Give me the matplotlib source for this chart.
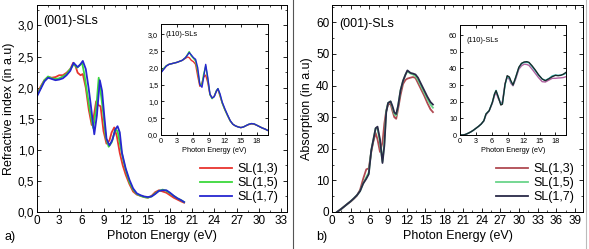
import matplotlib
matplotlib.use("Agg")
import matplotlib.pyplot as plt
from matplotlib.ticker import MultipleLocator, FuncFormatter
from matplotlib.lines import Line2D

plt.rcParams['font.family'] = ['Liberation Sans', 'DejaVu Sans']

labels = ['SL(1,3)', 'SL(1,5)', 'SL(1,7)']

# (a) refractive index, (001)-SLs
e_a13 = [0, 0.5, 1.0, 1.5, 2.0, 2.5, 3.0, 3.5, 4.0, 4.5, 4.9, 5.2, 5.5, 5.9, 6.2, 6.6, 7.0, 7.4, 7.7,
         8.0, 8.3, 8.6, 9.0, 9.4, 9.8, 10.1, 10.45, 10.8, 11.2, 11.6, 12.0, 12.5, 13.0, 13.5, 14.0,
         14.5, 15.0, 15.5, 16.0, 16.5, 17.0, 17.5, 18.0, 18.5, 19.0, 19.5, 19.9]
n_a13 = [1.90, 2.02, 2.12, 2.17, 2.16, 2.17, 2.20, 2.20, 2.24, 2.30, 2.40, 2.35, 2.24, 2.20, 2.22, 2.00,
         1.65, 1.40, 1.55, 1.78, 1.72, 1.70, 1.30, 1.10, 1.15, 1.28, 1.36, 1.22, 0.95, 0.75, 0.60,
         0.45, 0.33, 0.28, 0.26, 0.24, 0.23, 0.26, 0.32, 0.35, 0.33, 0.31, 0.27, 0.23, 0.20, 0.17, 0.15]
e_a15 = [0, 0.5, 1.0, 1.5, 2.0, 2.5, 3.0, 3.5, 4.0, 4.5, 5.0, 5.4, 5.8, 6.1, 6.4, 6.8, 7.2, 7.6, 8.0,
         8.35, 8.7, 9.0, 9.3, 9.7, 10.1, 10.6, 10.9, 11.3, 11.7, 12.0, 12.5, 13.0, 13.5, 14.0, 14.5,
         15.0, 15.5, 16.0, 16.5, 17.0, 17.5, 18.0, 18.5, 19.0, 19.5, 19.9]
n_a15 = [1.88, 2.00, 2.12, 2.18, 2.15, 2.14, 2.15, 2.18, 2.22, 2.30, 2.38, 2.32, 2.36, 2.40, 2.22, 1.90,
         1.60, 1.35, 1.65, 2.16, 1.85, 1.55, 1.20, 1.05, 1.12, 1.33, 1.30, 1.05, 0.82, 0.68, 0.48,
         0.36, 0.29, 0.26, 0.24, 0.23, 0.25, 0.30, 0.34, 0.36, 0.34, 0.30, 0.26, 0.22, 0.19, 0.16]
e_a17 = [0, 0.5, 1.0, 1.5, 2.0, 2.5, 3.0, 3.5, 4.0, 4.5, 4.95, 5.5, 5.9, 6.2, 6.6, 7.0, 7.3, 7.75,
         8.1, 8.5, 8.8, 9.1, 9.4, 9.8, 10.2, 10.6, 10.9, 11.2, 11.5, 12.0, 12.5, 13.0, 13.5, 14.0,
         14.5, 15.0, 15.5, 16.0, 16.5, 17.0, 17.5, 18.0, 18.5, 19.0, 19.5, 19.9]
n_a17 = [1.86, 1.98, 2.10, 2.16, 2.14, 2.12, 2.13, 2.15, 2.20, 2.27, 2.40, 2.33, 2.38, 2.43, 2.30, 1.98,
         1.70, 1.25, 1.55, 2.12, 1.95, 1.55, 1.18, 1.07, 1.16, 1.33, 1.38, 1.28, 0.95, 0.70, 0.52,
         0.38, 0.30, 0.27, 0.25, 0.24, 0.25, 0.29, 0.34, 0.35, 0.35, 0.31, 0.26, 0.22, 0.19, 0.16]

# (a) inset, (110)-SLs
e_ai = [0, 0.5, 1.0, 1.5, 2.0, 3.0, 4.0, 4.6, 5.0, 5.3, 5.7, 6.1, 6.5, 6.9, 7.3, 7.7, 8.0, 8.4, 8.8,
        9.2, 9.6, 10.0, 10.4, 10.7, 11.1, 11.5, 12.0, 12.5, 13.0, 13.5, 14.0, 14.5, 15.0, 15.5, 16.0,
        16.5, 17.0, 17.5, 18.0, 18.5, 19.0, 19.5, 20.0]
n_ai13 = [1.88, 1.96, 2.05, 2.10, 2.12, 2.16, 2.22, 2.28, 2.32, 2.30, 2.22, 2.18, 2.10, 1.75, 1.45,
          1.55, 1.72, 1.78, 1.55, 1.20, 1.10, 1.15, 1.30, 1.36, 1.15, 0.95, 0.75, 0.58, 0.42, 0.32,
          0.27, 0.24, 0.22, 0.24, 0.28, 0.31, 0.33, 0.32, 0.29, 0.25, 0.21, 0.18, 0.14]
n_ai15 = [1.86, 1.98, 2.06, 2.10, 2.12, 2.16, 2.22, 2.30, 2.40, 2.48, 2.35, 2.28, 2.20, 1.90, 1.50,
          1.50, 1.80, 2.05, 1.65, 1.20, 1.08, 1.15, 1.32, 1.38, 1.18, 0.95, 0.75, 0.58, 0.42, 0.32,
          0.27, 0.24, 0.22, 0.24, 0.28, 0.32, 0.34, 0.33, 0.29, 0.25, 0.21, 0.18, 0.14]
n_ai17 = [1.85, 1.95, 2.05, 2.10, 2.12, 2.16, 2.22, 2.30, 2.38, 2.45, 2.38, 2.30, 2.25, 2.00, 1.50,
          1.42, 1.70, 2.10, 1.70, 1.22, 1.10, 1.14, 1.30, 1.38, 1.22, 0.98, 0.78, 0.60, 0.43, 0.32,
          0.27, 0.24, 0.22, 0.24, 0.28, 0.32, 0.34, 0.33, 0.29, 0.25, 0.21, 0.18, 0.14]

# (b) absorption, (001)-SLs
e_b = [0.8, 1.5, 2.0, 2.5, 3.0, 3.5, 4.0, 4.5, 5.0, 5.5, 5.9, 6.3, 6.6, 7.0, 7.3, 7.7, 8.1, 8.4,
       8.7, 9.0, 9.4, 9.7, 10.0, 10.3, 10.6, 11.0, 11.4, 11.8, 12.1, 12.6, 13.0, 13.4, 13.8, 14.3,
       14.8, 15.3, 15.8, 16.2]
a_b13 = [0, 1.0, 1.8, 2.6, 3.3, 4.2, 5.2, 7.0, 10.5, 13.5, 13.8, 19.0, 22.0, 25.0, 23.0, 19.0, 22.0,
         28.0, 32.0, 34.0, 34.2, 32.0, 30.0, 29.5, 32.5, 37.0, 40.5, 41.8, 42.2, 42.5, 42.7, 42.4,
         40.8, 38.8, 36.8, 34.5, 32.5, 31.6]
a_b15 = [0, 1.0, 1.8, 2.6, 3.4, 4.3, 5.3, 6.6, 9.0, 11.0, 12.5, 19.5, 22.5, 26.5, 26.5, 22.0, 16.0,
         22.0, 32.0, 34.5, 35.0, 33.0, 31.0, 30.5, 33.5, 38.5, 41.5, 43.5, 44.5, 43.8, 43.5, 43.0,
         41.8, 39.8, 37.8, 35.8, 34.0, 33.0]
a_b17 = [0, 1.0, 1.8, 2.6, 3.4, 4.3, 5.3, 6.6, 9.0, 10.5, 12.0, 19.5, 22.5, 26.5, 27.0, 23.0, 15.5,
         21.0, 31.5, 34.5, 35.0, 33.5, 31.5, 31.0, 33.5, 38.5, 41.5, 43.5, 44.8, 44.0, 43.8, 43.5,
         42.5, 40.5, 38.5, 36.5, 34.8, 34.0]

# (b) inset, (110)-SLs
e_bi = [0, 0.5, 1.0, 1.5, 2.0, 2.5, 3.0, 3.5, 4.0, 4.5, 4.9, 5.5, 6.1, 6.5, 6.8, 7.2, 7.7, 8.0,
        8.5, 8.9, 9.3, 9.6, 10.0, 10.5, 11.1, 11.6, 12.1, 12.6, 13.0, 13.6, 14.2, 14.8, 15.5, 16.1,
        16.8, 17.4, 18.0, 18.5, 19.0, 19.5, 20.0]
a_bi13 = [0, 0, 0.3, 1.0, 1.8, 2.8, 4.0, 5.2, 6.6, 8.4, 12.0, 14.5, 19.0, 23.5, 25.5, 22.0, 19.0,
          20.0, 31.0, 34.5, 33.5, 31.0, 29.5, 33.5, 39.5, 41.5, 42.5, 42.3, 41.8, 39.5, 37.0, 34.5,
          32.0, 31.8, 33.0, 34.0, 34.0, 34.2, 34.3, 34.5, 35.0]
a_bi15 = [0, 0, 0.3, 1.0, 1.8, 2.8, 4.0, 5.2, 6.6, 8.6, 12.6, 14.6, 19.6, 24.5, 26.8, 23.0, 18.6,
          19.0, 30.0, 35.0, 34.5, 32.0, 30.0, 34.5, 40.5, 42.8, 43.6, 43.6, 43.4, 41.0, 38.6, 36.0,
          33.6, 32.8, 34.0, 35.5, 36.0, 35.8, 36.0, 36.3, 37.0]
a_bi17 = [0, 0, 0.3, 1.0, 1.8, 2.8, 4.0, 5.2, 6.6, 8.6, 12.6, 14.6, 19.6, 24.5, 26.6, 23.0, 18.0,
          18.5, 30.5, 35.6, 34.8, 32.5, 30.0, 34.6, 40.6, 43.0, 43.8, 44.0, 43.6, 41.5, 39.0, 36.2,
          33.6, 32.6, 33.8, 35.0, 35.8, 35.6, 35.8, 36.5, 37.6]

cols_a = ['#e8342e', '#3cd83c', '#2626d0']
cols_b = ['#b04a52', '#6ad48a', '#2a2a48']
cols_bi = ['#b060a0', '#40c8c0', '#1a2a2a']

comma = FuncFormatter(lambda v, p: ('%.1f' % v).replace('.', ','))

fig = plt.figure(figsize=(5.89, 2.49), dpi=100)


def style(ax, fs, maj, mino):
    ax.tick_params(which='both', direction='in', top=True, right=True, labelsize=fs, pad=2)
    ax.tick_params(which='major', length=maj, width=0.6)
    ax.tick_params(which='minor', length=mino, width=0.5)
    for s in ax.spines.values():
        s.set_linewidth(0.7)


# panel a
ax1 = fig.add_axes([0.0628, 0.1486, 0.4242, 0.8314])
for e, n, c, lab in zip([e_a13, e_a15, e_a17], [n_a13, n_a15, n_a17], cols_a, labels):
    ax1.plot(e, n, color=c, lw=1.3, label=lab)
ax1.set_xlim(0, 33.8)
ax1.set_ylim(0, 3.33)
ax1.xaxis.set_major_locator(MultipleLocator(3))
ax1.xaxis.set_minor_locator(MultipleLocator(1.5))
ax1.yaxis.set_major_locator(MultipleLocator(0.5))
ax1.yaxis.set_minor_locator(MultipleLocator(0.25))
ax1.yaxis.set_major_formatter(comma)
style(ax1, 8.5, 3, 1.5)
ax1.set_xlabel('Photon Energy (eV)', fontsize=9, labelpad=2)
ax1.set_ylabel('Refractive index (in a.u)', fontsize=9, labelpad=2)
ax1.text(0.025, 0.91, '(001)-SLs', transform=ax1.transAxes, fontsize=9)
ax1.legend(loc='lower right', bbox_to_anchor=(1.0, 0.0), frameon=False, fontsize=9,
           handlelength=2.6, labelspacing=0.15, handletextpad=0.4, borderaxespad=0.3)

ins1 = fig.add_axes([0.2733, 0.4578, 0.1817, 0.4458])
for n, c in zip([n_ai13, n_ai15, n_ai17], cols_a):
    ins1.plot(e_ai, n, color=c, lw=1.0)
ins1.set_xlim(0, 20.1)
ins1.set_ylim(0, 3.3)
ins1.xaxis.set_major_locator(MultipleLocator(3))
ins1.yaxis.set_major_locator(MultipleLocator(0.5))
ins1.yaxis.set_major_formatter(comma)
style(ins1, 5.2, 2, 1)
ins1.set_xlabel('Photon Energy (eV)', fontsize=5.3, labelpad=1.5)
ins1.text(0.04, 0.89, '(110)-SLs', transform=ins1.transAxes, fontsize=5.3)

# panel b
ax2 = fig.add_axes([0.5637, 0.1486, 0.4262, 0.8314])
for a, c, lab in zip([a_b13, a_b15, a_b17], cols_b, labels):
    ax2.plot(e_b, a, color=c, lw=1.3, label=lab)
ax2.set_xlim(0, 40.3)
ax2.set_ylim(0, 65.5)
ax2.xaxis.set_major_locator(MultipleLocator(3))
ax2.xaxis.set_minor_locator(MultipleLocator(1.5))
ax2.yaxis.set_major_locator(MultipleLocator(10))
ax2.yaxis.set_minor_locator(MultipleLocator(5))
style(ax2, 8.5, 3, 1.5)
ax2.set_xlabel('Photon Energy (eV)', fontsize=9, labelpad=2)
ax2.set_ylabel('Absorption (in a.u)', fontsize=9, labelpad=2)
ax2.text(0.03, 0.895, '(001)-SLs', transform=ax2.transAxes, fontsize=9)
ax2.legend(loc='lower right', bbox_to_anchor=(1.0, 0.0), frameon=False, fontsize=9,
           handlelength=2.6, labelspacing=0.15, handletextpad=0.4, borderaxespad=0.3)

ins2 = fig.add_axes([0.781, 0.4578, 0.18, 0.4418])
for a, c in zip([a_bi13, a_bi15, a_bi17], cols_bi):
    ins2.plot(e_bi, a, color=c, lw=1.0)
ins2.set_xlim(0, 20)
ins2.set_ylim(0, 66)
ins2.xaxis.set_major_locator(MultipleLocator(3))
ins2.yaxis.set_major_locator(MultipleLocator(10))
style(ins2, 5.2, 2, 1)
ins2.set_xlabel('Photon Energy (eV)', fontsize=5.3, labelpad=1.5)
ins2.text(0.06, 0.85, '(110)-SLs', transform=ins2.transAxes, fontsize=5.3)

fig.text(0.008, 0.048, 'a)', fontsize=9, va='center')
fig.text(0.537, 0.048, 'b)', fontsize=9, va='center')

# thin grey frames around the two panels
fig.add_artist(Line2D([0.497, 0.497], [0.0, 1.0], color='#555555', lw=0.8))
fig.add_artist(Line2D([0.995, 0.995], [0.0, 1.0], color='#bbbbbb', lw=0.8))

fig.savefig('out.png', dpi=100)
